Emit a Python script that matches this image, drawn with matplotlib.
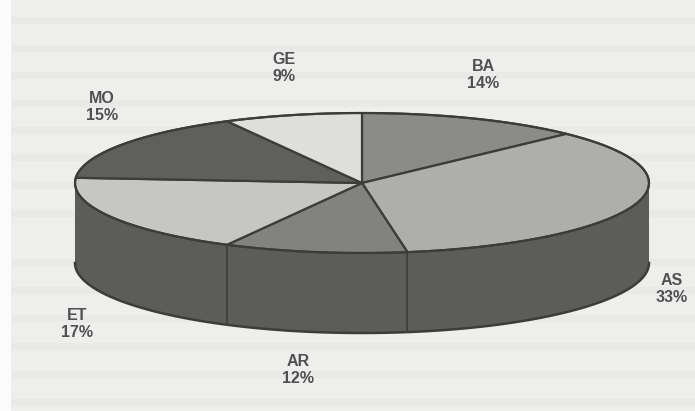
import numpy as np
import matplotlib
matplotlib.use('Agg')
import matplotlib.pyplot as plt

# data
categories = ['BA', 'AS', 'AR', 'ET', 'MO', 'GE']
values = [14, 33, 12, 17, 15, 9]

# looks
top_colors = ['#8b8b89', '#aeaeac', '#82827f', '#c6c6c4', '#5f5f5d', '#dededc']
side_color = '#5c5c59'
edge_color = '#3c3c3a'
label_pos = [(483, 75), (672, 289), (298, 370), (77, 324), (102, 107), (284, 68)]

# rows of print showing through the scanned page
page_rows = [20, 48, 75, 103, 130, 157, 185, 213, 262, 290, 318, 346, 374, 402]

cx, cy = 362, 183
rx, ry = 287, 70
depth = 80
tilt = 1.19  # slices near the top and bottom look narrower


def rim(a0, a1):
    t = np.radians(np.linspace(a0, a1, 120))
    return cx + rx * np.cos(t), cy - ry * np.sin(t)


def tilted(a):
    # keeps the turn count so the angles stay in order
    t = np.radians(a)
    base = np.arctan2(tilt * np.sin(t), np.cos(t))
    return np.degrees(base + 2 * np.pi * np.round((t - base) / (2 * np.pi)))


fig = plt.figure(figsize=(6.95, 4.11), dpi=100, facecolor='#fbfbfb')
ax = fig.add_axes([11 / 695, 0, 684 / 695, 1])
ax.set_xlim(11, 695)
ax.set_ylim(411, 0)
ax.set_facecolor('#eeeeed')
ax.set_xticks([])
ax.set_yticks([])
for s in ax.spines.values():
    s.set_visible(False)

for y in page_rows:
    ax.plot([11, 695], [y, y], color='#e9e9e8', lw=5, solid_capstyle='butt', zorder=1)

# angles go clockwise from the top
sweeps = np.array(values) / sum(values) * 360
bounds = 90 - np.r_[0, np.cumsum(sweeps)]
bounds = tilted(bounds)
starts, ends = bounds[:-1], bounds[1:]

# side wall, only the front half shows
x, y = rim(0, -180)
ax.fill(np.r_[x, x[::-1]], np.r_[y, y[::-1] + depth], color=side_color, lw=0, zorder=2)
ax.plot(x, y + depth, color=edge_color, lw=1.8, zorder=3)

# dividers on the wall
for a in ends:
    a = (a + 180) % 360 - 180
    if -180 < a < 0:
        x, y = rim(a, a)
        ax.plot([x[0], x[0]], [y[0], y[0] + depth], color='#3f3f3d', lw=1.3, zorder=3)

# top face
for a0, a1, c in zip(starts, ends, top_colors):
    x, y = rim(a0, a1)
    ax.fill(np.r_[cx, x], np.r_[cy, y], facecolor=c, edgecolor=edge_color, lw=1.6,
            joinstyle='round', zorder=4)
x, y = rim(0, 360)
ax.plot(x, y, color=edge_color, lw=1.5, zorder=5)

for name, v, (lx, ly) in zip(categories, values, label_pos):
    ax.text(lx, ly, f'{name}\n{v}%', ha='center', va='center', fontsize=11.5,
            family='Liberation Sans', fontweight='bold', color='#505050',
            linespacing=1.2, zorder=6)

fig.savefig('out.png', dpi=100, facecolor=fig.get_facecolor())
